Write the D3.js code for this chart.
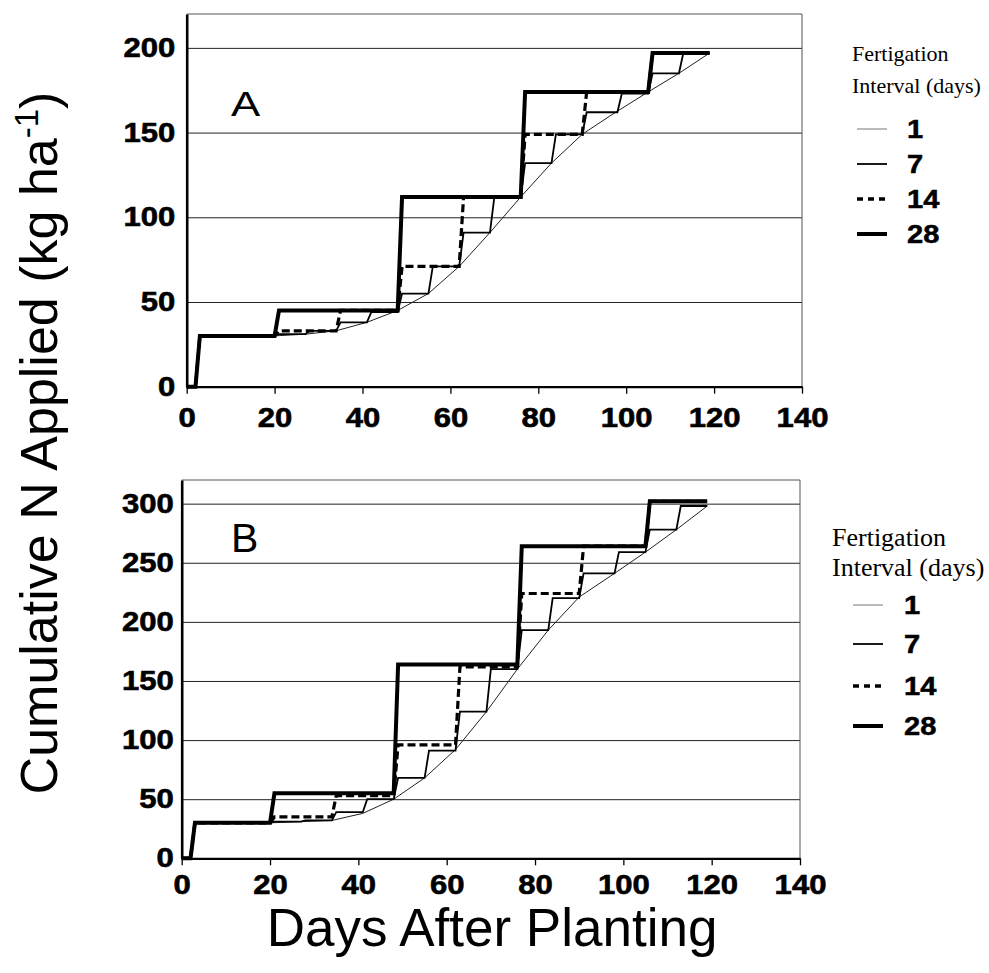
<!DOCTYPE html>
<html><head><meta charset="utf-8">
<script src="https://cdn.jsdelivr.net/npm/d3@7"></script>
<style>body{margin:0;background:#fff} svg{display:block}</style>
</head><body>
<svg id="c" width="989" height="973"></svg>
<script>
// ---------------- data ----------------
const intervals = ["1", "7", "14", "28"];
const xTicks = [0, 20, 40, 60, 80, 100, 120, 140];
const yTicksA = [0, 50, 100, 150, 200];
const yTicksB = [0, 50, 100, 150, 200, 250, 300];

// Panel A  [day, cumulative N]
const A_1  = [[0,0],[2,0],[3,30],[20,30],[27,31],[34,33],[41,38],[48,45],[55,55],[62,71],[69,91],[76,112],[83,132],[90,149],[97,161],[105,174],[112,185],[119,197]];
const A_7  = [[0,0],[2,0],[3,30],[20,30],[21,31],[27,31],[28,33],[34,33],[35,38],[41,38],[42,44],[48,44],[49,55],[55,55],[56,71],[62,71],[63,91],[69,91],[70,112],[76,112],[77,132],[83,132],[84,149],[90,149],[91,162],[98,162],[99,173],[105,173],[106,185],[112,185],[113,197],[119,197]];
const A_14 = [[0,0],[2,0],[3,30],[20,30],[21,33],[34,33],[35,45],[48,45],[49,71],[62,71],[63,112],[76,112],[77,149],[90,149],[91,174],[105,174],[106,197],[119,197]];
const A_28 = [[0,0],[2,0],[3,30],[20,30],[21,45],[48,45],[49,112],[76,112],[77,174],[105,174],[106,197],[119,197]];

// Panel B  [day, cumulative N]
const B_1  = [[0,0],[2,0],[3,30],[20,30],[27,31],[34,32],[41,38],[48,50],[55,68],[62,92],[69,124],[76,160],[83,193],[90,221],[98,241],[105,259],[112,278],[119,298]];
const B_7  = [[0,0],[2,0],[3,30],[20,30],[21,31],[27,31],[28,32],[34,32],[35,39],[41,39],[42,50],[48,50],[49,68],[55,68],[56,91],[62,91],[63,124],[69,124],[70,160],[76,160],[77,193],[83,193],[84,220],[90,220],[91,241],[98,241],[99,259],[105,259],[106,278],[112,278],[113,298],[119,298]];
const B_14 = [[0,0],[2,0],[3,30],[20,30],[21,35],[34,35],[35,53],[48,53],[49,96],[62,96],[63,162],[76,162],[77,224],[90,224],[91,264],[105,264],[106,302],[119,302]];
const B_28 = [[0,0],[2,0],[3,30],[20,30],[21,55],[48,55],[49,164],[76,164],[77,264],[105,264],[106,302],[119,302]];

// ---------------- drawing ----------------
const svg = d3.select("#c");
const SANS = "'Liberation Sans', Arial, Helvetica, sans-serif";
const SERIF = "'Liberation Serif', 'Times New Roman', serif";

const lineStyle = {
  "1":  {w: 1,   dash: null,  color: "#222"},
  "7":  {w: 1.8, dash: null,  color: "#000"},
  "14": {w: 3.2, dash: "8,4", color: "#000"},
  "28": {w: 4,   dash: null,  color: "#000"}
};

const panels = [
  {letter: "A", l: 186.7, r: 802, t: 14, b: 386.7, ymax: 220, yt: yTicksA, ypad: 10, xpad: 14,
   series: [A_1, A_7, A_14, A_28],
   letterX: 231, letterY: 116, letterSize: 35, letterScale: 1.25,
   leg: {x: 852, y1: 61, y2: 93, fs: 22, lx0: 857, lx1: 887, tx: 907, ys: [129, 164, 199, 234]}},
  {letter: "B", l: 181.7, r: 800, t: 480, b: 858.3, ymax: 320, yt: yTicksB, ypad: 7, xpad: 10,
   series: [B_1, B_7, B_14, B_28],
   letterX: 231, letterY: 552, letterSize: 41, letterScale: 1.0,
   leg: {x: 832, y1: 546, y2: 576, fs: 26, lx0: 853, lx1: 883, tx: 904, ys: [605, 644, 686, 726]}}
];

function styleTickText(sel) {
  sel.attr("font-family", SANS).attr("font-size", 27).attr("font-weight", "bold")
    .attr("fill", "#000").attr("stroke", "#000").attr("stroke-width", 0.6)
    .attr("transform", "scale(1.15,1)");
}

panels.forEach(p => {
  const x = d3.scaleLinear().domain([0, 140]).range([p.l, p.r]);
  const y = d3.scaleLinear().domain([0, p.ymax]).range([p.b, p.t]);
  const g = svg.append("g");

  // gridlines
  g.append("g").attr("transform", `translate(${p.l},0)`)
    .call(d3.axisLeft(y).tickValues(p.yt.slice(1)).tickSize(-(p.r - p.l)).tickFormat(""))
    .call(s => s.select(".domain").remove())
    .selectAll("line").attr("stroke", "#222").attr("stroke-width", 1);

  // top & right border (thin)
  g.append("line").attr("x1", p.l).attr("x2", p.r).attr("y1", p.t).attr("y2", p.t)
    .attr("stroke", "#555").attr("stroke-width", 1);
  g.append("line").attr("x1", p.r).attr("x2", p.r).attr("y1", p.t).attr("y2", p.b)
    .attr("stroke", "#555").attr("stroke-width", 1);

  // series lines
  const line = d3.line().x(d => x(d[0])).y(d => y(d[1]));
  p.series.forEach((s, i) => {
    const st = lineStyle[intervals[i]];
    g.append("path").datum(s).attr("d", line)
      .attr("fill", "none").attr("stroke", st.color).attr("stroke-width", st.w)
      .attr("stroke-dasharray", st.dash).attr("stroke-linejoin", "miter");
  });

  // x axis
  const xa = g.append("g").attr("transform", `translate(0,${p.b})`)
    .call(d3.axisBottom(x).tickValues(xTicks).tickSize(7).tickPadding(p.xpad).tickSizeOuter(0));
  xa.select(".domain").attr("stroke", "#000").attr("stroke-width", 2.2);
  xa.selectAll(".tick line").attr("stroke", "#000").attr("stroke-width", 1.3);
  xa.selectAll("text").call(styleTickText);

  // y axis
  const ya = g.append("g").attr("transform", `translate(${p.l},0)`)
    .call(d3.axisLeft(y).tickValues(p.yt).tickSize(0).tickPadding(p.ypad).tickSizeOuter(0));
  ya.select(".domain").attr("stroke", "#000").attr("stroke-width", 2.6);
  ya.selectAll("text").call(styleTickText);

  // panel letter
  g.append("text").attr("x", p.letterX / p.letterScale).attr("y", p.letterY)
    .attr("transform", `scale(${p.letterScale},1)`)
    .attr("font-family", SANS).attr("font-size", p.letterSize).text(p.letter);

  // legend
  const L = p.leg;
  g.append("text").attr("x", L.x).attr("y", L.y1).attr("font-family", SERIF)
    .attr("font-size", L.fs).text("Fertigation");
  g.append("text").attr("x", L.x).attr("y", L.y2).attr("font-family", SERIF)
    .attr("font-size", L.fs).text("Interval (days)");
  intervals.forEach((k, i) => {
    const st = lineStyle[k];
    g.append("line").attr("x1", L.lx0).attr("x2", L.lx1).attr("y1", L.ys[i]).attr("y2", L.ys[i])
      .attr("stroke", k === "1" ? "#777" : "#000").attr("stroke-width", k === "14" ? 3.5 : st.w)
      .attr("stroke-dasharray", k === "14" ? "6,5" : null);
    g.append("text").attr("x", L.tx / 1.12).attr("y", L.ys[i] + 9)
      .attr("transform", "scale(1.12,1)")
      .attr("font-family", SANS).attr("font-weight", "bold").attr("font-size", 26)
      .attr("stroke", "#000").attr("stroke-width", 0.5).text(k);
  });
});

// axis titles
const yt = svg.append("text").attr("transform", "translate(57,443) rotate(-90)")
  .attr("text-anchor", "middle").attr("font-family", SANS).attr("font-size", 52);
yt.append("tspan").text("Cumulative N Applied (kg ha");
yt.append("tspan").attr("dy", -19).attr("font-size", 33).text("-1");
yt.append("tspan").attr("dy", 19).text(")");

svg.append("text").attr("x", 492).attr("y", 946).attr("text-anchor", "middle")
  .attr("font-family", SANS).attr("font-size", 53).text("Days After Planting");
</script>
</body></html>
